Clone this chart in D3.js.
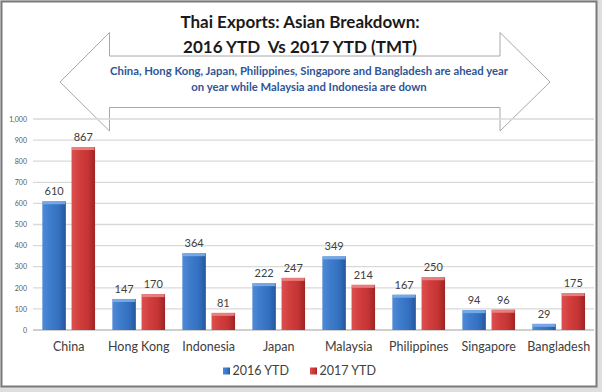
<!DOCTYPE html>
<html>
<head>
<meta charset="utf-8">
<script src="https://cdnjs.cloudflare.com/ajax/libs/d3/7.8.5/d3.min.js"></script>
<style>
  body { margin: 0; background: #dedede; }
  #chart { width: 602px; height: 392px; }
  text { font-family: Lato, 'Open Sans', sans-serif; white-space: pre; }
</style>
</head>
<body>
<div id="chart"></div>
<script>
let categories = ['China', 'Hong Kong', 'Indonesia', 'Japan', 'Malaysia', 'Philippines', 'Singapore', 'Bangladesh'];
let ytd2016 = [610, 147, 364, 222, 349, 167, 94, 29];
let ytd2017 = [867, 170, 81, 247, 214, 250, 96, 175];
let seriesNames = ['2016 YTD', '2017 YTD'];
let yTicks = [0, 100, 200, 300, 400, 500, 600, 700, 800, 900, 1000];
let titleLines = ['Thai Exports: Asian Breakdown:', '2016 YTD  Vs 2017 YTD (TMT)'];
let noteLines = [
    'China, Hong Kong, Japan, Philippines, Singapore and Bangladesh are ahead year',
    'on year while Malaysia and Indonesia are down'
];

let width = 602;
let height = 392;

let svg = d3
    .select('#chart')
    .append('svg')
    .attr('width', width)
    .attr('height', height);

// gradients for the bevelled bars
let defs = svg.append('defs');
let palette = [
    { id: 'gBlue', stops: ['#4f8ad6', '#3d7bcb', '#3470c0', '#24579e'], top: '#7fb0ec' },
    { id: 'gRed', stops: ['#dc5050', '#d23d3d', '#c53434', '#9e2424'], top: '#ef8a8a' }
];
palette.forEach(p => {
    let g = defs.append('linearGradient').attr('id', p.id).attr('x1', 0).attr('x2', 1).attr('y1', 0).attr('y2', 0);
    [0, 0.35, 0.7, 1].forEach((o, i) => g.append('stop').attr('offset', o).attr('stop-color', p.stops[i]));
});

// frame
svg.append('rect')
    .attr('x', 1.5).attr('y', 1.5)
    .attr('width', 595).attr('height', 385)
    .attr('fill', '#fff')
    .attr('stroke', '#7a7a7a')
    .attr('stroke-width', 2);

let x0 = d3.scaleBand().domain(categories).range([33.7, 593.7]);
let x1 = d3.scaleBand().domain(seriesNames).range([0, x0.bandwidth()]).paddingInner(0.195).paddingOuter(0.296);
let y = d3.scaleLinear().domain([0, 1000]).range([330, 119]);

// double arrow behind the plot
let arrow = [
    [60, 82], [109.5, 32.5], [109.5, 56], [500, 56], [500, 32.5], [550, 82],
    [500, 131], [500, 107.5], [109.5, 107.5], [109.5, 131]
];
svg.append('path')
    .attr('d', d3.line()(arrow) + 'Z')
    .attr('fill', '#fff')
    .attr('stroke', '#a8a8a8')
    .attr('stroke-width', 1);

// gridlines
svg.append('g')
    .selectAll('line')
    .data(yTicks)
    .enter()
    .append('line')
    .attr('x1', 33)
    .attr('x2', 594)
    .attr('y1', d => y(d))
    .attr('y2', d => y(d))
    .attr('stroke', d => d === 0 ? '#bfbfbf' : '#d9d9d9')
    .attr('stroke-width', 1.3);

let yAxis = d3.axisLeft(y).tickValues(yTicks).tickSize(0).tickPadding(0).tickFormat(d3.format(','));
svg.append('g')
    .attr('transform', 'translate(27,0)')
    .call(yAxis)
    .call(g => g.select('.domain').remove())
    .selectAll('text')
    .attr('font-family', 'Lato, sans-serif')
    .attr('font-size', 7)
    .attr('fill', '#595959');

let xAxis = d3.axisBottom(x0).tickSize(0).tickPadding(0);
svg.append('g')
    .attr('transform', 'translate(0,342)')
    .call(xAxis)
    .call(g => g.select('.domain').remove())
    .selectAll('text')
    .attr('font-family', 'Lato, sans-serif')
    .attr('font-size', 12.5)
    .attr('fill', '#404040');

// bars
let rows = categories.map((c, i) => ({ cat: c, vals: [ytd2016[i], ytd2017[i]] }));
let groups = svg.selectAll('g.grp')
    .data(rows)
    .enter()
    .append('g')
    .attr('class', 'grp')
    .attr('transform', d => `translate(${x0(d.cat)},0)`);

let bars = groups.selectAll('g.bar')
    .data(d => d.vals.map((v, k) => ({ s: seriesNames[k], v: v, k: k })))
    .enter()
    .append('g')
    .attr('class', 'bar');

bars.append('rect')
    .attr('x', d => x1(d.s))
    .attr('y', d => y(d.v))
    .attr('width', x1.bandwidth())
    .attr('height', d => y(0) - y(d.v))
    .attr('fill', d => `url(#${palette[d.k].id})`);

bars.append('rect')
    .attr('x', d => x1(d.s) + 0.5)
    .attr('y', d => y(d.v))
    .attr('width', x1.bandwidth() - 1)
    .attr('height', d => Math.min(3, y(0) - y(d.v)))
    .attr('fill', d => palette[d.k].top)
    .attr('opacity', 0.85);

bars.append('text')
    .attr('x', d => x1(d.s) + x1.bandwidth() / 2)
    .attr('y', d => y(d.v) - 6)
    .attr('text-anchor', 'middle')
    .attr('font-size', 11)
    .attr('fill', '#404040')
    .text(d => d.v);

// title + note
svg.append('g')
    .selectAll('text')
    .data(titleLines)
    .enter()
    .append('text')
    .attr('x', 300)
    .attr('y', (d, i) => 28 + i * 25)
    .attr('text-anchor', 'middle')
    .attr('font-size', 17)
    .attr('font-weight', 'bold')
    .attr('fill', '#1a1a1a')
    .text(d => d);

svg.append('g')
    .selectAll('text')
    .data(noteLines)
    .enter()
    .append('text')
    .attr('x', 309)
    .attr('y', (d, i) => 75 + i * 16)
    .attr('text-anchor', 'middle')
    .attr('font-size', 11.3)
    .attr('font-weight', 'bold')
    .attr('fill', '#2f5597')
    .text(d => d);

// legend
let legend = svg.append('g')
    .selectAll('g')
    .data(seriesNames)
    .enter()
    .append('g')
    .attr('transform', (d, i) => `translate(${i ? 310 : 223},371)`);
legend.append('rect')
    .attr('y', -3.5)
    .attr('width', 7)
    .attr('height', 7)
    .attr('fill', (d, i) => `url(#${palette[i].id})`);
legend.append('text')
    .attr('x', 9.5)
    .attr('dy', '0.35em')
    .attr('font-size', 12.5)
    .attr('fill', '#404040')
    .text(d => d);
</script>
</body>
</html>
